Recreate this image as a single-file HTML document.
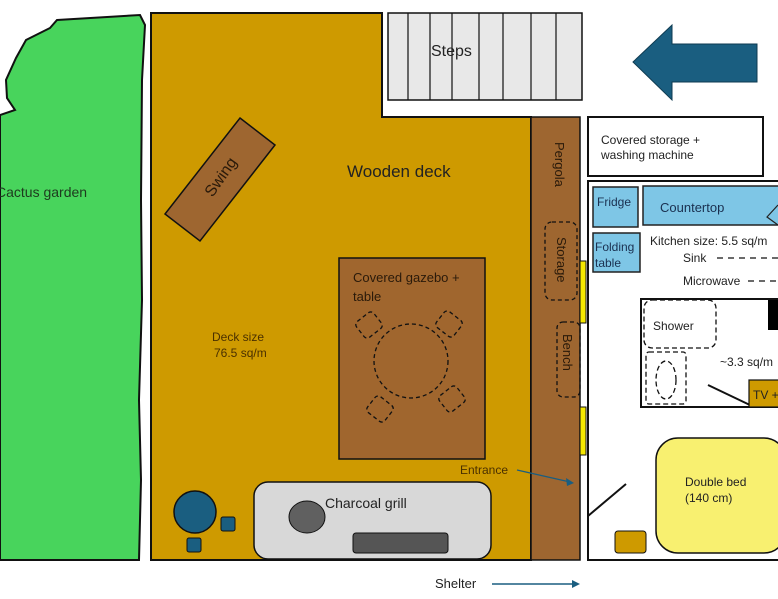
<!DOCTYPE html><html><head><style>body{margin:0;background:#fff}svg{display:block}text{font-family:"Liberation Sans",sans-serif}</style></head><body>
<svg width="778" height="599" viewBox="0 0 778 599" xmlns="http://www.w3.org/2000/svg">
<path d="M57,20 L140,15 L145,25 L142,80 L141,200 L142,300 L139,400 L141,480 L139,560 L0,560 L0,115 L15,110 L7,98 L6,80 L16,58 L26,40 L50,28 Z" fill="#48D45C" stroke="#111" stroke-width="2"/>
<text x="-4" y="197" font-size="14" fill="#1e3a1e">Cactus garden</text>
<path d="M151,13 L382,13 L382,117 L531,117 L531,560 L151,560 Z" fill="#CE9A00" stroke="#111" stroke-width="2"/>
<rect x="531" y="117" width="49" height="443" fill="#9E6630" stroke="#111" stroke-width="1.5"/>
<rect x="388" y="13" width="194" height="87" fill="#e8e8e8" stroke="#111" stroke-width="1.5"/>
<g stroke="#111" stroke-width="1.2"><line x1="408" y1="13" x2="408" y2="100"/><line x1="430" y1="13" x2="430" y2="100"/><line x1="452" y1="13" x2="452" y2="100"/><line x1="479" y1="13" x2="479" y2="100"/><line x1="503" y1="13" x2="503" y2="100"/><line x1="531" y1="13" x2="531" y2="100"/><line x1="556" y1="13" x2="556" y2="100"/></g>
<text x="431" y="56" font-size="16" fill="#222">Steps</text>
<path d="M633,62 L672,25 L672,44 L757,44 L757,82 L672,82 L672,100 Z" fill="#1A5E80" stroke="#0e3a50" stroke-width="1"/>
<polygon points="240,118 275,145 200,241 165,214" fill="#9E6630" stroke="#111" stroke-width="1.5"/>
<text transform="translate(225,180) rotate(-55)" font-size="16" fill="#2a1a0a" text-anchor="middle">Swing</text>
<text x="347" y="177" font-size="17" fill="#222">Wooden deck</text>
<text x="212" y="341" font-size="12" fill="#4a3000">Deck size</text>
<text x="214" y="357" font-size="12" fill="#4a3000">76.5 sq/m</text>
<rect x="339" y="258" width="146" height="201" fill="#A0662E" stroke="#111" stroke-width="1.5"/>
<text x="353" y="282" font-size="13" fill="#2a1a0a">Covered gazebo +</text>
<text x="353" y="301" font-size="13" fill="#2a1a0a">table</text>
<g fill="none" stroke="#111" stroke-width="1.3" stroke-dasharray="4,3">
<circle cx="411" cy="361" r="37"/>
<rect x="-11" y="-10" width="22" height="20" rx="4" transform="translate(369,325) rotate(-38)"/>
<rect x="-11" y="-10" width="22" height="20" rx="4" transform="translate(449,324) rotate(38)"/>
<rect x="-11" y="-10" width="22" height="20" rx="4" transform="translate(380,409) rotate(38)"/>
<rect x="-11" y="-10" width="22" height="20" rx="4" transform="translate(452,399) rotate(-38)"/>
<rect x="545" y="222" width="32" height="78" rx="7"/>
<rect x="557" y="322" width="23" height="75" rx="6"/>
</g>
<text transform="translate(555,142) rotate(90)" font-size="13" fill="#2a1a0a">Pergola</text>
<text transform="translate(557,237) rotate(90)" font-size="13" fill="#2a1a0a">Storage</text>
<text transform="translate(563,334) rotate(90)" font-size="13" fill="#2a1a0a">Bench</text>
<rect x="580" y="261" width="6" height="62" fill="#F5E800" stroke="#111"/>
<rect x="580" y="407" width="6" height="48" fill="#F5E800" stroke="#111"/>
<rect x="254" y="482" width="237" height="77" rx="14" fill="#d8d8d8" stroke="#111" stroke-width="1.5"/>
<ellipse cx="307" cy="517" rx="18" ry="16" fill="#606060" stroke="#111"/>
<rect x="353" y="533" width="95" height="20" rx="3" fill="#555" stroke="#111"/>
<text x="325" y="508" font-size="14" fill="#222">Charcoal grill</text>
<circle cx="195" cy="512" r="21" fill="#1A5E80" stroke="#111" stroke-width="1.5"/>
<rect x="221" y="517" width="14" height="14" rx="2" fill="#1A5E80" stroke="#111"/>
<rect x="187" y="538" width="14" height="14" rx="2" fill="#1A5E80" stroke="#111"/>
<text x="460" y="474" font-size="12" fill="#4a3000">Entrance</text>
<line x1="517" y1="470" x2="570" y2="482" stroke="#1A5E80" stroke-width="1.2"/><path d="M574,483 L566,478 L567,486 Z" fill="#1A5E80"/>
<text x="435" y="588" font-size="13" fill="#222">Shelter</text>
<line x1="492" y1="584" x2="575" y2="584" stroke="#1A5E80" stroke-width="1.5"/><path d="M580,584 L572,580 L572,588 Z" fill="#1A5E80"/>
<rect x="588" y="117" width="175" height="59" fill="#fff" stroke="#111" stroke-width="2"/>
<text x="601" y="144" font-size="12" fill="#222">Covered storage +</text>
<text x="601" y="159" font-size="12" fill="#222">washing machine</text>
<rect x="588" y="181" width="192" height="379" fill="#fff" stroke="#111" stroke-width="2"/>
<rect x="593" y="187" width="45" height="40" fill="#7EC6E6" stroke="#222" stroke-width="1.5"/>
<text x="597" y="206" font-size="12" fill="#1a3050">Fridge</text>
<rect x="643" y="186" width="137" height="39" fill="#7EC6E6" stroke="#222" stroke-width="1.5"/>
<path d="M778,205 L767,217 L778,225" fill="#7EC6E6" stroke="#222" stroke-width="1.2"/>
<text x="660" y="212" font-size="13" fill="#1a3050">Countertop</text>
<rect x="593" y="233" width="47" height="39" fill="#7EC6E6" stroke="#222" stroke-width="1.5"/>
<text x="595" y="251" font-size="12" fill="#1a3050">Folding</text>
<text x="595" y="267" font-size="12" fill="#1a3050">table</text>
<text x="650" y="245" font-size="12" fill="#222">Kitchen size:  5.5 sq/m</text>
<text x="683" y="262" font-size="12" fill="#222">Sink</text>
<line x1="717" y1="258" x2="778" y2="258" stroke="#111" stroke-width="1.3" stroke-dasharray="6,5"/>
<text x="683" y="285" font-size="12" fill="#222">Microwave</text>
<line x1="748" y1="281" x2="778" y2="281" stroke="#111" stroke-width="1.3" stroke-dasharray="6,5"/>
<rect x="641" y="299" width="140" height="108" fill="#fff" stroke="#111" stroke-width="2"/>
<rect x="768" y="300" width="12" height="30" fill="#000"/>
<g fill="none" stroke="#111" stroke-width="1.3" stroke-dasharray="5,3">
<rect x="644" y="300" width="72" height="48" rx="8"/>
<rect x="646" y="352" width="40" height="52" rx="3"/>
<ellipse cx="666" cy="380" rx="10" ry="19"/>
</g>
<text x="653" y="330" font-size="12" fill="#222">Shower</text>
<text x="720" y="366" font-size="12" fill="#222">~3.3 sq/m</text>
<line x1="708" y1="385" x2="752" y2="406" stroke="#111" stroke-width="2"/>
<rect x="749" y="380" width="31" height="27" fill="#CE9A00" stroke="#111" stroke-width="1.2"/>
<text x="753" y="399" font-size="12" fill="#222">TV +</text>
<rect x="656" y="438" width="130" height="115" rx="22" fill="#F8F070" stroke="#111" stroke-width="1.5"/>
<text x="685" y="486" font-size="12" fill="#222">Double bed</text>
<text x="685" y="502" font-size="12" fill="#222">(140 cm)</text>
<line x1="588" y1="516" x2="626" y2="484" stroke="#111" stroke-width="2"/>
<rect x="615" y="531" width="31" height="22" rx="3" fill="#CE9A00" stroke="#111"/>
</svg></body></html>
